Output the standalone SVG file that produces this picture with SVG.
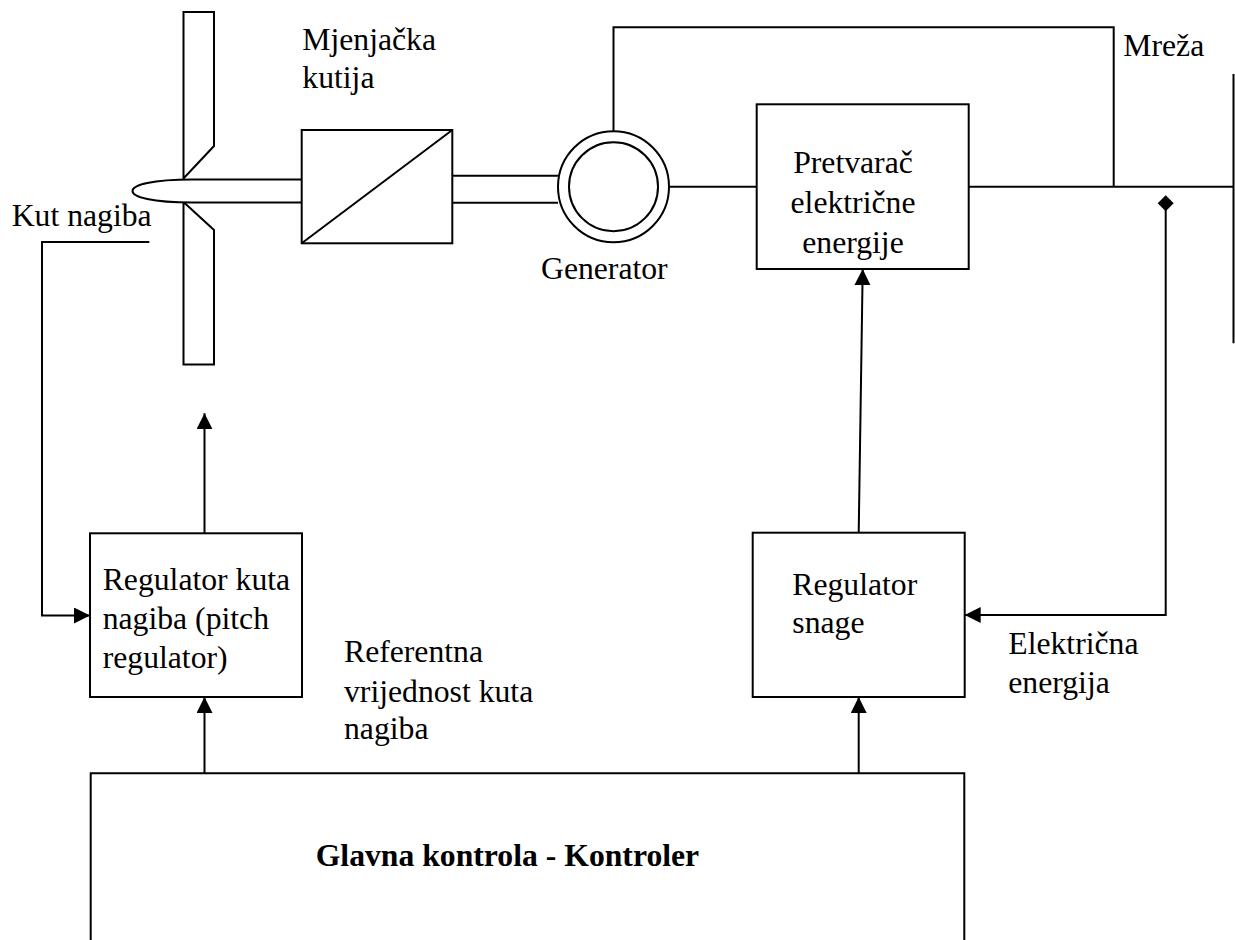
<svg xmlns="http://www.w3.org/2000/svg" width="1235" height="940" viewBox="0 0 1235 940">
<style>
  .ln { fill: none; stroke: #000; stroke-width: 2; }
  .box { fill: #fff; stroke: #000; stroke-width: 2; }
  text { font-family: 'Liberation Serif', 'DejaVu Serif', serif; font-size: 31.7px; fill: #000; }
  .b { font-weight: bold; }
  .mid { text-anchor: middle; }
</style>
<defs>
  <marker id="arr" markerUnits="userSpaceOnUse" markerWidth="17" markerHeight="17" refX="16" refY="8" orient="auto" viewBox="0 0 17 17">
    <path d="M0,0 L16,8 L0,16 Z" fill="#000"/>
  </marker>
  <marker id="dia" markerUnits="userSpaceOnUse" markerWidth="17" markerHeight="17" refX="8" refY="8" orient="auto" viewBox="0 0 17 17">
    <path d="M0,8 L8,0 L16,8 L8,16 Z" fill="#000"/>
  </marker>
</defs>
<rect width="1235" height="940" fill="#fff"/>

<g id="connectors">
  <path class="ln" d="M149.3 242 H42 V615.5 H90" marker-end="url(#arr)"/>
  <path class="ln" d="M204.5 533.3 V413.3" marker-end="url(#arr)"/>
  <path class="ln" d="M204.5 773.3 V697" marker-end="url(#arr)"/>
  <path class="ln" d="M858.7 532.7 L862.7 269" marker-end="url(#arr)"/>
  <path class="ln" d="M858.7 773.3 V697" marker-end="url(#arr)"/>
  <path class="ln" d="M1165.7 203.3 V615 H964.7" marker-start="url(#dia)" marker-end="url(#arr)"/>
  <path class="ln" d="M613.5 131 V27.3 H1113.7 V186.7"/>
  <path class="ln" d="M669 186.7 H756.7"/>
  <path class="ln" d="M968.7 186.7 H1234"/>
  <path class="ln" d="M452.3 175.7 H558"/>
  <path class="ln" d="M452.3 202.7 H558"/>
</g>

<g id="rotor">
  <path class="box" d="M183.5 12 H214 V146 L183.5 178.5 Z"/>
  <path class="box" d="M183.5 202 L214 230 V364.5 H183.5 Z"/>
  <path class="box" d="M302 179.5 H192 C152 179.5 132.5 185 132.5 191 C132.5 197 152 202.5 192 202.5 H302"/>
  <text x="11.7" y="226">Kut nagiba</text>
</g>

<g id="gearbox">
  <rect class="box" x="301.7" y="130" width="150.6" height="113.3"/>
  <path class="ln" d="M301.7 243.3 L452.3 130"/>
  <text x="302.3" y="50">Mjenjačka</text>
  <text x="302.3" y="88.3">kutija</text>
</g>

<g id="generator">
  <circle class="box" cx="613.5" cy="186.7" r="55.5"/>
  <circle class="ln" cx="613.5" cy="186.7" r="44.5"/>
  <text x="541" y="279.3">Generator</text>
</g>

<g id="converter">
  <rect class="box" x="756.7" y="104.3" width="212" height="164.7"/>
  <text class="mid" x="853" y="172.7">Pretvarač</text>
  <text class="mid" x="853" y="212.7">električne</text>
  <text class="mid" x="853" y="252.7">energije</text>
</g>

<g id="grid">
  <path class="ln" d="M1233.5 74 V343.3" stroke-width="1.6"/>
  <text x="1123.3" y="56">Mreža</text>
</g>

<g id="pitch-regulator">
  <rect class="box" x="90" y="533.3" width="212" height="163.7"/>
  <text x="102.7" y="590">Regulator kuta</text>
  <text x="102.7" y="629.3">nagiba (pitch</text>
  <text x="102.7" y="667.7">regulator)</text>
</g>

<g id="reference-label">
  <text x="344" y="661.7">Referentna</text>
  <text x="344" y="701.7">vrijednost kuta</text>
  <text x="344" y="739.3">nagiba</text>
</g>

<g id="power-regulator">
  <rect class="box" x="752.7" y="532.7" width="212" height="164.3"/>
  <text x="792.3" y="595">Regulator</text>
  <text x="792.3" y="633.3">snage</text>
</g>

<g id="power-label">
  <text x="1008.3" y="654">Električna</text>
  <text x="1008.3" y="693.3">energija</text>
</g>

<g id="main-control">
  <path class="ln" d="M90.7 945 V773.3 H964.3 V945"/>
  <text class="b" x="315.7" y="866">Glavna kontrola - Kontroler</text>
</g>
</svg>
